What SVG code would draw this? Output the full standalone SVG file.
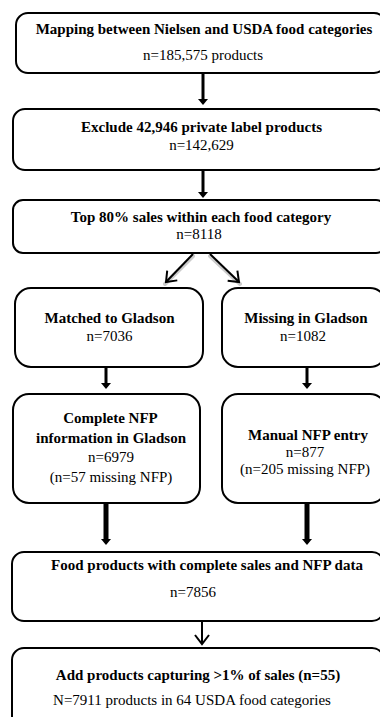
<svg xmlns="http://www.w3.org/2000/svg" width="380" height="717" viewBox="0 0 380 717">
<style>
.box{fill:#fff;stroke:#000;stroke-width:2}
text{font-family:"Liberation Serif","Times New Roman",serif;font-size:15px;fill:#000;text-anchor:middle}
.b{font-weight:bold}
.sh{fill:none;stroke:#ccc;stroke-width:4;stroke-linecap:round}
.thin{fill:none;stroke:#000;stroke-width:2}
.thick{stroke:#000;stroke-width:3}
.thicker{stroke:#000;stroke-width:5}
</style>
<defs>
<marker id="tri" viewBox="0 0 6 10" markerWidth="6" markerHeight="10" refX="0" refY="5" orient="auto" markerUnits="userSpaceOnUse">
<path d="M0,0 L6,5 L0,10 Z" fill="#000"/>
</marker>
<marker id="vee" markerWidth="6" markerHeight="8" refX="5" refY="4" orient="auto" markerUnits="strokeWidth">
<path d="M0.5,0.5 L5,4 L0.5,7.5" fill="none" stroke="#000" stroke-width="1"/>
</marker>
</defs>
<g id="connectors">
<line class="thick" x1="203" y1="74" x2="203" y2="99" marker-end="url(#tri)"/>
<line class="thick" x1="203" y1="171" x2="203" y2="192" marker-end="url(#tri)"/>
<line class="sh" x1="193" y1="256" x2="165" y2="284"/>
<line class="sh" x1="210" y1="256" x2="240" y2="284"/>
<line class="thin" x1="193" y1="254" x2="166" y2="282" marker-end="url(#vee)"/>
<line class="thin" x1="210" y1="254" x2="239" y2="282" marker-end="url(#vee)"/>
<line class="thick" x1="106" y1="368" x2="106" y2="383" marker-end="url(#tri)"/>
<line class="thick" x1="307" y1="368" x2="307" y2="383" marker-end="url(#tri)"/>
<line class="thicker" x1="106" y1="504" x2="106" y2="539" marker-end="url(#tri)"/>
<line class="thicker" x1="307" y1="504" x2="307" y2="539" marker-end="url(#tri)"/>
<line class="thin" x1="202" y1="622" x2="202" y2="644" marker-end="url(#vee)"/>
</g>
<g id="n1">
<rect class="box" x="16" y="13" width="370" height="60" rx="12"/>
<text class="b" x="204" y="34">Mapping between Nielsen and USDA food categories</text>
<text x="203" y="60">n=185,575 products</text>
</g>
<g id="n2">
<rect class="box" x="13" y="109" width="373" height="61" rx="12"/>
<text class="b" x="201.5" y="132">Exclude 42,946 private label products</text>
<text x="201.5" y="150">n=142,629</text>
</g>
<g id="n3">
<rect class="box" x="13" y="200" width="373" height="53" rx="10"/>
<text class="b" x="201" y="222">Top 80% sales within each food category</text>
<text x="199" y="239">n=8118</text>
</g>
<g id="n4">
<rect class="box" x="15" y="288" width="188" height="79" rx="16"/>
<text class="b" x="109.5" y="323">Matched to Gladson</text>
<text x="109.5" y="341">n=7036</text>
</g>
<g id="n5">
<rect class="box" x="222" y="288" width="164" height="79" rx="16"/>
<text class="b" x="306" y="323">Missing in Gladson</text>
<text x="303" y="341">n=1082</text>
</g>
<g id="n6">
<rect class="box" x="13" y="394" width="187" height="109" rx="16"/>
<text class="b" x="110.5" y="423">Complete NFP</text>
<text class="b" x="111" y="443">information in Gladson</text>
<text x="111" y="462">n=6979</text>
<text x="111" y="482">(n=57 missing NFP)</text>
</g>
<g id="n7">
<rect class="box" x="222" y="394" width="164" height="109" rx="16"/>
<text class="b" x="308" y="440">Manual NFP entry</text>
<text x="305" y="457">n=877</text>
<text x="305" y="474">(n=205 missing NFP)</text>
</g>
<g id="n8">
<rect class="box" x="12" y="552" width="372" height="69" rx="12"/>
<text class="b" x="207" y="570">Food products with complete sales and NFP data</text>
<text x="193" y="597">n=7856</text>
</g>
<g id="n9">
<rect class="box" x="12" y="648" width="372" height="90" rx="12"/>
<text class="b" x="198" y="680">Add products capturing &gt;1% of sales (n=55)</text>
<text x="192" y="705">N=7911 products in 64 USDA food categories</text>
</g>
</svg>
